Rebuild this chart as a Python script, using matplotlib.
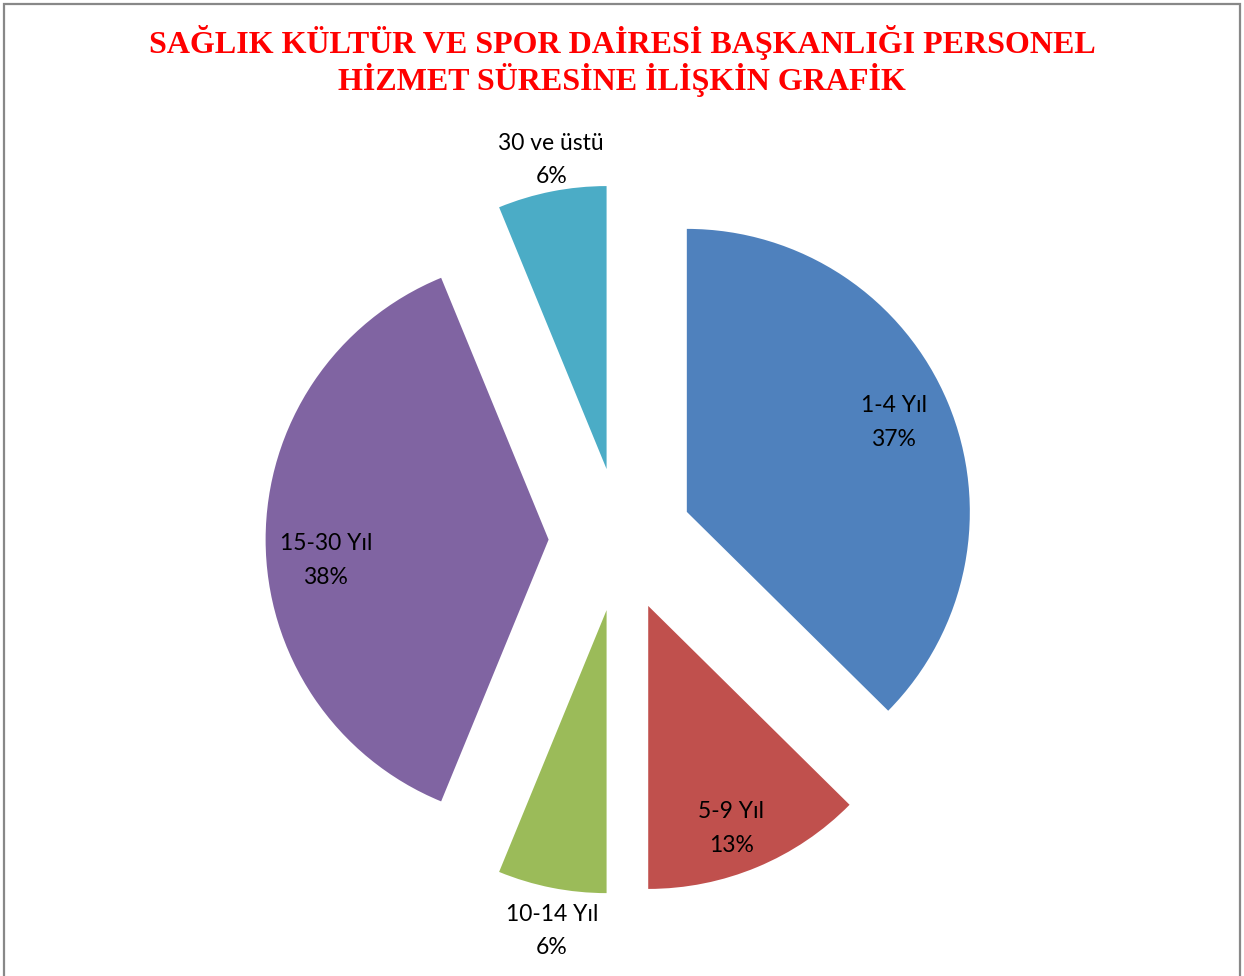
import matplotlib.pyplot as plt
from matplotlib.patches import Rectangle
from matplotlib import transforms
import numpy as np

# hizmet suresi dagilimi (yuzde)
categories = ["1-4 Yıl", "5-9 Yıl", "10-14 Yıl", "15-30 Yıl", "30 ve üstü"]
shares = [37.4, 12.6, 6.2, 37.6, 6.2]
colors = ["#4F81BD", "#C0504D", "#9BBB59", "#8064A2", "#4BACC6"]
title_lines = [
    "SAĞLIK KÜLTÜR VE SPOR DAİRESİ BAŞKANLIĞI PERSONEL",
    "HİZMET SÜRESİNE İLİŞKİN GRAFİK",
]

W, H = 1244, 976
CX, CY = 620.5, 539.6   # pie centre in pixels (from top)
R = 283.0               # radius in pixels
label_dist = [0.80, 0.83, 1.14, 0.79, 1.12]
label_shift = [1.3, -2.0, 1.4, 4.6, -1.1]   # degrees off the wedge mid line


def main():
    fig = plt.figure(figsize=(W / 100, H / 100), dpi=100)
    ax = fig.add_axes([0, 0, 1, 1])

    total = sum(shares)
    wedges, _ = ax.pie(
        shares,
        colors=colors,
        startangle=90,
        counterclock=False,
        explode=[0.254] * len(shares),
        radius=1.0,
        wedgeprops=dict(linewidth=0),
    )

    # nudge labels down a few pixels (va=center counts the descent)
    label_tr = transforms.offset_copy(ax.transData, fig=fig, x=0, y=-3, units="dots")
    for wedge, name, value, dist, shift in zip(wedges, categories, shares, label_dist, label_shift):
        mid = np.deg2rad((wedge.theta1 + wedge.theta2) / 2 + shift)
        cx, cy = wedge.center
        ax.text(
            cx + dist * np.cos(mid),
            cy + dist * np.sin(mid),
            f"{name}\n{value / total * 100:.0f}%",
            ha="center",
            va="center",
            fontsize=16.5,
            family=["Lato", "DejaVu Sans"],
            color="#000000",
            linespacing=1.75,
            transform=label_tr,
        )

    # 1 data unit == R pixels, centre at (CX, CY)
    ax.set_xlim(-CX / R, (W - CX) / R)
    ax.set_ylim(-(H - CY) / R, CY / R)
    ax.set_aspect("auto")
    ax.axis("off")

    for i, line in enumerate(title_lines):
        baseline = 53 + 37 * i
        fig.text(
            0.5,
            1 - baseline / H,
            line,
            ha="center",
            va="baseline",
            fontsize=23,
            fontweight="bold",
            family="Liberation Serif",
            color="#FF0000",
        )

    fig.patches.append(
        Rectangle(
            (4 / W, -0.01),
            (1240 - 4) / W,
            1 - 4 / H + 0.01,
            transform=fig.transFigure,
            fill=False,
            edgecolor="#888888",
            linewidth=1.6,
        )
    )

    fig.savefig("out.png", dpi=100)
    plt.close(fig)


if __name__ == "__main__":
    main()
